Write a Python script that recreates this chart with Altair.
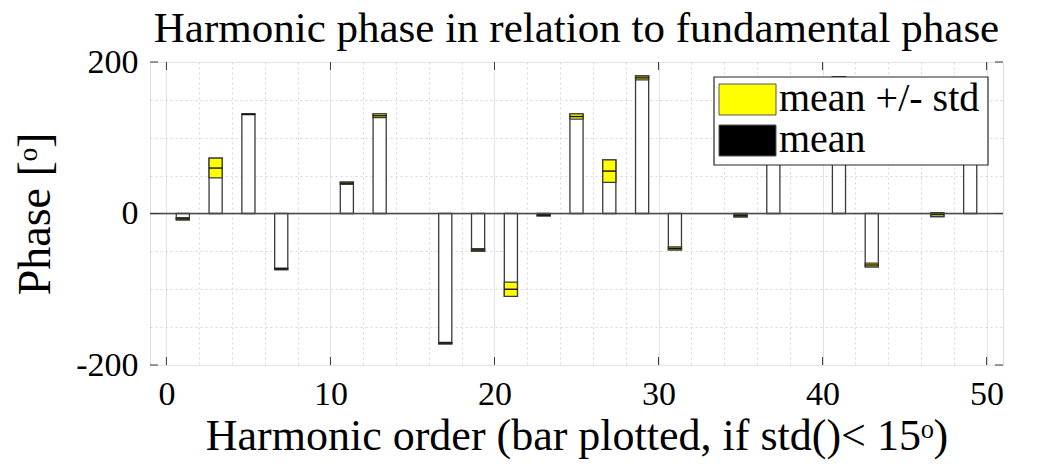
import altair as alt
import pandas as pd

# ---- data ----
harmonics = [1, 3, 5, 7, 11, 13, 17, 19, 21, 23, 25, 27, 29, 31, 35, 37, 41, 43, 47, 49]
mean_phase = [-7, 60, 131, -73, 40, 129, -171, -48, -100, -2, 128, 56, 179, -46, -3, 110, 179, -68, -1.5, 140]
std_phase = [1.5, 13, 0.5, 1, 1.5, 2.5, 1, 1.5, 9.5, 1, 3.5, 14.8, 2.5, 2, 1.5, 1, 1.5, 2.5, 2.5, 1]

x_major = [0, 10, 20, 30, 40, 50]
x_minor = list(range(0, 51, 2))
y_major = [-200, 0, 200]
y_minor = list(range(-200, 201, 50))

legend_labels = ["mean +/- std", "mean"]
legend_colors = ["#ffff00", "#000000"]

FONT = "Liberation Serif"
W, H = 853, 303

df = pd.DataFrame({"h": harmonics, "m": mean_phase, "s": std_phase})

xs = alt.Scale(domain=[-1, 51], nice=False, zero=False)
ys = alt.Scale(domain=[-200, 200], nice=False, zero=False)

X_TITLE = "Harmonic order (bar plotted, if std()< 15ᵒ)"
Y_TITLE = "Phase [ᵒ]"

x_axis = alt.Axis(
    values=x_minor,
    labelExpr="datum.value % 10 === 0 ? datum.label : ''",
    grid=True,
    gridColor={"condition": {"test": "datum.value % 10 === 0", "value": "#e3e3e3"}, "value": "#d6d6d6"},
    gridDash={"condition": {"test": "datum.value % 10 === 0", "value": []}, "value": [2, 3]},
    ticks=False,
    domain=False,
    labelFont=FONT,
    labelFontSize=34,
    labelColor="#000000",
    labelPadding=12,
    title=X_TITLE,
    titleFont=FONT,
    titleFontSize=44,
    titleFontWeight="normal",
    titleColor="#000000",
    titlePadding=3,
)
y_axis = alt.Axis(
    values=y_minor,
    labelExpr="datum.value % 200 === 0 ? '' + datum.value : ''",
    grid=True,
    gridColor={"condition": {"test": "datum.value % 200 === 0", "value": "#e3e3e3"}, "value": "#d6d6d6"},
    gridDash={"condition": {"test": "datum.value % 200 === 0", "value": []}, "value": [2, 3]},
    ticks=False,
    domain=False,
    labelFont=FONT,
    labelFontSize=34,
    labelColor="#000000",
    labelPadding=12,
    labelBaseline="middle",
    title=Y_TITLE,
    titleFont=FONT,
    titleFontSize=46,
    titleFontWeight="normal",
    titleColor="#000000",
    titlePadding=16,
)

X = lambda f: alt.X(f, scale=xs, axis=x_axis)
Y = lambda f: alt.Y(f, scale=ys, axis=y_axis)

STROKE = "#3a3a3a"

base = alt.Chart(df).transform_calculate(
    x0="datum.h - 0.4",
    x1="datum.h + 0.4",
    lo="datum.m - datum.s",
    hi="datum.m + datum.s",
    far="datum.m >= 0 ? datum.m + datum.s : datum.m - datum.s",
    zero="0",
)

white_bars = base.mark_bar(fill="#ffffff", stroke=STROKE, strokeWidth=1.3).encode(
    x=X("x0:Q"), x2="x1:Q", y=Y("zero:Q"), y2="far:Q"
)
yellow_bars = base.mark_bar(fill="#ffff00", stroke=STROKE, strokeWidth=1.3).encode(
    x=X("x0:Q"), x2="x1:Q", y=Y("lo:Q"), y2="hi:Q"
)
mean_lines = base.mark_rule(color="#111111", strokeWidth=1.4).encode(
    x=X("x0:Q"), x2="x1:Q", y=Y("m:Q")
)

baseline = alt.Chart(pd.DataFrame({"v": [0]})).mark_rule(color="#4a4a4a", strokeWidth=1.3).encode(
    y=Y("v:Q"), x=alt.value(0), x2=alt.value(W)
)

# inward ticks (MATLAB style)
xt = pd.DataFrame({"t": x_major})
xt_bottom = alt.Chart(xt).mark_rule(color="#3a3a3a", strokeWidth=1).encode(
    x=X("t:Q"), y=alt.value(H), y2=alt.value(H - 8)
)
xt_top = alt.Chart(xt).mark_rule(color="#3a3a3a", strokeWidth=1).encode(
    x=X("t:Q"), y=alt.value(0), y2=alt.value(8)
)
yt = pd.DataFrame({"t": y_major})
yt_left = alt.Chart(yt).mark_rule(color="#3a3a3a", strokeWidth=1).encode(
    y=Y("t:Q"), x=alt.value(0), x2=alt.value(8)
)
yt_right = alt.Chart(yt).mark_rule(color="#3a3a3a", strokeWidth=1).encode(
    y=Y("t:Q"), x=alt.value(W), x2=alt.value(W - 8)
)

# legend
leg_df = pd.DataFrame({"label": legend_labels, "color": legend_colors, "i": [0, 1]})
LX0, LX1, LY0, LY1 = 564, 838, 15, 103
legend_box = alt.Chart(pd.DataFrame({"a": [0]})).mark_rect(
    fill="#ffffff", stroke="#262626", strokeWidth=1.2
).encode(x=alt.value(LX0), x2=alt.value(LX1), y=alt.value(LY0), y2=alt.value(LY1))

legend_layers = []
for i in range(len(legend_labels)):
    sub = alt.Chart(leg_df).transform_filter(f"datum.i == {i}")
    y0 = 22 + 41 * i
    legend_layers.append(
        sub.mark_rect(stroke="#555555", strokeWidth=1).encode(
            x=alt.value(569), x2=alt.value(626), y=alt.value(y0), y2=alt.value(y0 + 31),
            fill=alt.Color("color:N", scale=None),
        )
    )
    legend_layers.append(
        sub.mark_text(align="left", baseline="middle", font=FONT, fontSize=40, color="#000000").encode(
            x=alt.value(629), y=alt.value(y0 + 15), text="label:N"
        )
    )

chart = alt.layer(
    white_bars, yellow_bars, mean_lines, baseline,
    xt_bottom, xt_top, yt_left, yt_right,
    legend_box, *legend_layers,
).properties(
    width=W,
    height=H,
    autosize=alt.AutoSizeParams(type="none"),
    padding={"left": 142, "top": 54, "right": 40, "bottom": 95},
    title=alt.Title(
        "Harmonic phase in relation to fundamental phase",
        font=FONT, fontSize=43, fontWeight="normal", color="#000000", offset=-6,
    ),
).configure_view(stroke="#262626", strokeWidth=1.2).configure(background="#ffffff")

chart.save("out.html", embed_options={"renderer": "svg", "actions": False})
